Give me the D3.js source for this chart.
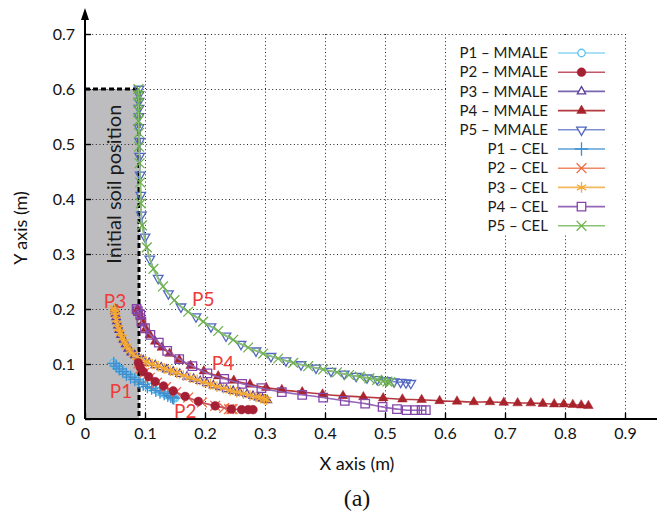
<!DOCTYPE html>
<html>
<head>
<meta charset="utf-8">
<script src="https://cdn.jsdelivr.net/npm/d3@7"></script>
<style>
  html, body { margin: 0; padding: 0; background: #fff; }
  svg { display: block; font-family: Lato, "Open Sans", sans-serif; }
</style>
</head>
<body>
<svg id="chart" width="657" height="513"></svg>
<script>
// Tick values and labels
const xTicks = [0, 0.1, 0.2, 0.3, 0.4, 0.5, 0.6, 0.7, 0.8, 0.9];
const xTickLabels = ["0", "0.1", "0.2", "0.3", "0.4", "0.5", "0.6", "0.7", "0.8", "0.9"];
const yTicks = [0, 0.1, 0.2, 0.3, 0.4, 0.5, 0.6, 0.7];
const yTickLabels = ["0", "0.1", "0.2", "0.3", "0.4", "0.5", "0.6", "0.7"];

// Initial soil block (width, height in metres)
const soilBlock = [0.09, 0.6];

// Particle trajectories [x, y] in metres
const p1Mmale = [[0.047,0.102],[0.050,0.098],[0.056,0.092],[0.061,0.088],[0.067,0.083],[0.074,0.078],[0.081,0.074],[0.088,0.069],[0.094,0.065],[0.101,0.061],[0.108,0.058],[0.115,0.054],[0.122,0.050],[0.129,0.047],[0.136,0.044],[0.141,0.042],[0.145,0.040],[0.148,0.039],[0.150,0.038]];
const p2Mmale = [[0.089,0.102],[0.092,0.094],[0.097,0.086],[0.106,0.077],[0.117,0.068],[0.131,0.060],[0.147,0.051],[0.167,0.041],[0.189,0.032],[0.217,0.024],[0.244,0.018],[0.261,0.017],[0.272,0.017],[0.280,0.017]];
const p3Mmale = [[0.050,0.200],[0.050,0.196],[0.051,0.191],[0.052,0.185],[0.053,0.178],[0.055,0.170],[0.057,0.162],[0.060,0.153],[0.064,0.144],[0.068,0.136],[0.072,0.128],[0.077,0.121],[0.083,0.116],[0.090,0.111],[0.097,0.107],[0.107,0.102],[0.117,0.098],[0.127,0.094],[0.136,0.090],[0.147,0.086],[0.158,0.082],[0.170,0.077],[0.181,0.073],[0.192,0.069],[0.203,0.065],[0.214,0.061],[0.225,0.058],[0.236,0.054],[0.247,0.051],[0.258,0.048],[0.270,0.045],[0.280,0.042],[0.289,0.039],[0.296,0.037],[0.301,0.035],[0.304,0.034]];
const p4Mmale = [[0.088,0.200],[0.090,0.195],[0.093,0.185],[0.096,0.175],[0.101,0.164],[0.108,0.153],[0.117,0.141],[0.128,0.130],[0.141,0.119],[0.157,0.108],[0.176,0.097],[0.198,0.087],[0.222,0.078],[0.248,0.070],[0.275,0.063],[0.302,0.057],[0.328,0.053],[0.362,0.049],[0.396,0.045],[0.430,0.042],[0.464,0.040],[0.497,0.038],[0.529,0.036],[0.561,0.035],[0.591,0.033],[0.620,0.032],[0.648,0.031],[0.675,0.031],[0.698,0.030],[0.721,0.029],[0.743,0.029],[0.763,0.028],[0.782,0.027],[0.798,0.027],[0.813,0.026],[0.827,0.025],[0.839,0.024]];
const p5Mmale = [[0.090,0.600],[0.090,0.590],[0.090,0.578],[0.090,0.565],[0.090,0.550],[0.090,0.530],[0.091,0.505],[0.091,0.478],[0.092,0.444],[0.093,0.407],[0.094,0.371],[0.100,0.331],[0.108,0.291],[0.122,0.256],[0.139,0.228],[0.160,0.204],[0.185,0.186],[0.210,0.168],[0.235,0.151],[0.260,0.136],[0.285,0.124],[0.310,0.114],[0.335,0.106],[0.360,0.099],[0.385,0.093],[0.410,0.087],[0.432,0.082],[0.452,0.078],[0.470,0.075],[0.487,0.072],[0.502,0.070],[0.515,0.068],[0.526,0.067],[0.535,0.066],[0.543,0.065]];

const p1Cel = [[0.048,0.101],[0.052,0.096],[0.057,0.091],[0.063,0.086],[0.069,0.081],[0.076,0.076],[0.083,0.072],[0.090,0.067],[0.097,0.063],[0.104,0.059],[0.111,0.056],[0.118,0.052],[0.125,0.049],[0.132,0.046],[0.138,0.043],[0.143,0.041],[0.146,0.039],[0.148,0.038]];
const p2Cel = [[0.089,0.101],[0.093,0.092],[0.099,0.084],[0.108,0.075],[0.120,0.066],[0.135,0.058],[0.152,0.049],[0.172,0.039],[0.195,0.030],[0.217,0.024],[0.232,0.020],[0.240,0.018],[0.244,0.018],[0.246,0.018]];
const p3Cel = [[0.049,0.201],[0.050,0.198],[0.050,0.194],[0.051,0.188],[0.052,0.181],[0.054,0.173],[0.056,0.165],[0.059,0.157],[0.062,0.148],[0.066,0.140],[0.070,0.132],[0.075,0.124],[0.080,0.118],[0.087,0.113],[0.094,0.109],[0.102,0.104],[0.112,0.100],[0.122,0.096],[0.132,0.092],[0.142,0.088],[0.153,0.084],[0.164,0.079],[0.175,0.075],[0.187,0.071],[0.198,0.067],[0.209,0.063],[0.220,0.059],[0.231,0.056],[0.242,0.052],[0.253,0.049],[0.264,0.046],[0.275,0.043],[0.285,0.040],[0.293,0.038],[0.299,0.036],[0.303,0.035]];
const p4Cel = [[0.086,0.200],[0.088,0.196],[0.092,0.190],[0.094,0.177],[0.100,0.165],[0.109,0.153],[0.123,0.139],[0.137,0.124],[0.157,0.109],[0.179,0.096],[0.204,0.083],[0.232,0.073],[0.262,0.064],[0.294,0.056],[0.328,0.049],[0.362,0.044],[0.397,0.039],[0.433,0.033],[0.467,0.028],[0.496,0.022],[0.520,0.018],[0.536,0.016],[0.550,0.016],[0.561,0.016],[0.568,0.016]];
const p5Cel = [[0.089,0.600],[0.089,0.588],[0.089,0.575],[0.089,0.560],[0.089,0.542],[0.090,0.520],[0.090,0.495],[0.091,0.465],[0.092,0.430],[0.093,0.392],[0.095,0.352],[0.103,0.312],[0.114,0.273],[0.130,0.241],[0.149,0.216],[0.172,0.195],[0.197,0.177],[0.222,0.160],[0.247,0.144],[0.272,0.130],[0.297,0.119],[0.322,0.110],[0.347,0.102],[0.372,0.096],[0.397,0.090],[0.420,0.085],[0.440,0.080],[0.458,0.077],[0.474,0.074],[0.487,0.071],[0.497,0.069],[0.504,0.068],[0.509,0.067]];

const seriesNames = ["P1 \u2013 MMALE", "P2 \u2013 MMALE", "P3 \u2013 MMALE", "P4 \u2013 MMALE", "P5 \u2013 MMALE",
                     "P1 \u2013 CEL", "P2 \u2013 CEL", "P3 \u2013 CEL", "P4 \u2013 CEL", "P5 \u2013 CEL"];
const seriesData = [p1Mmale, p2Mmale, p3Mmale, p4Mmale, p5Mmale, p1Cel, p2Cel, p3Cel, p4Cel, p5Cel];

// Point labels
const pointLabels = ["P1", "P2", "P3", "P4", "P5"];
const pointLabelPos = [[0.060, 0.038], [0.167, 0.002], [0.050, 0.202], [0.230, 0.090], [0.197, 0.205]];

// Styles per series
const styles = [
  { color: "#5ec4ee", line: "#8bd6f2", symbol: d3.symbolCircle, size: 44, fill: false, rotate: 0 },
  { color: "#a51f35", line: "#c4566a", symbol: d3.symbolCircle, size: 60, fill: true, rotate: 0 },
  { color: "#5b3d98", line: "#7a64b0", symbol: d3.symbolTriangle, size: 30, fill: false, rotate: 0 },
  { color: "#a8232b", line: "#b5393f", symbol: d3.symbolTriangle, size: 40, fill: true, rotate: 0 },
  { color: "#5068c0", line: "#7d8fd2", symbol: d3.symbolTriangle, size: 40, fill: false, rotate: 180 },
  { color: "#3f8fd0", line: "#5aa0d8", symbol: d3.symbolPlus, size: 60, fill: false, rotate: 0 },
  { color: "#ee6a40", line: "#f08a66", symbol: d3.symbolTimes, size: 64, fill: false, rotate: 0 },
  { color: "#f4a933", line: "#f3b85e", symbol: d3.symbolAsterisk, size: 80, fill: false, rotate: 0 },
  { color: "#8345aa", line: "#9466b8", symbol: d3.symbolSquare, size: 72, fill: false, rotate: 0 },
  { color: "#6db14d", line: "#8cc370", symbol: d3.symbolTimes, size: 64, fill: false, rotate: 0 }
];
// Drawing order: MMALE beneath CEL, with P2 MMALE on top
const drawOrder = [0, 2, 3, 4, 5, 6, 7, 8, 9, 1];

const svg = d3.select("#chart");
const x = d3.scaleLinear().domain([0, 0.9]).range([85, 625]);
const y = d3.scaleLinear().domain([0, 0.7]).range([419, 34]);

// Initial soil block
svg.append("rect")
  .attr("x", x(0)).attr("y", y(soilBlock[1]))
  .attr("width", x(soilBlock[0]) - x(0)).attr("height", y(0) - y(soilBlock[1]))
  .attr("fill", "#bdbdc0");

// Dotted grid
const grid = svg.append("g").attr("stroke", "#222").attr("stroke-width", 1)
  .attr("stroke-dasharray", "1,2.6").attr("fill", "none");
grid.selectAll("line.v").data(xTicks.slice(1)).join("line").attr("class", "v")
  .attr("x1", d => Math.round(x(d)) + 0.5).attr("x2", d => Math.round(x(d)) + 0.5)
  .attr("y1", y(0.7)).attr("y2", y(0));
grid.selectAll("line.h").data(yTicks.slice(1)).join("line").attr("class", "h")
  .attr("x1", x(0)).attr("x2", x(0.9))
  .attr("y1", d => Math.round(y(d)) + 0.5).attr("y2", d => Math.round(y(d)) + 0.5);

// Soil outline
svg.append("path")
  .attr("d", `M${x(0)},${y(soilBlock[1])}H${x(soilBlock[0])}V${y(0)}`)
  .attr("fill", "none").attr("stroke", "#000").attr("stroke-width", 3)
  .attr("stroke-dasharray", "5,3");

// Legend background
svg.append("rect").attr("x", 447).attr("y", 37).attr("width", 175).attr("height", 196).attr("fill", "#fff");

// Axes
const xAxis = d3.axisBottom(x).tickValues(xTicks).tickFormat((d, i) => xTickLabels[i])
  .tickSizeInner(-6).tickSizeOuter(0).tickPadding(9);
const gx = svg.append("g").attr("transform", `translate(0,${y(0)})`).call(xAxis);
gx.select(".domain").remove();
gx.selectAll("text").attr("font-size", 16).attr("fill", "#111").style("font-family", "Lato, sans-serif");
gx.selectAll("line").attr("stroke-width", 1.4);
svg.append("line").attr("x1", x(0)).attr("x2", 657).attr("y1", y(0)).attr("y2", y(0))
  .attr("stroke", "#000").attr("stroke-width", 2);

const yAxis = d3.axisLeft(y).tickValues(yTicks).tickFormat((d, i) => yTickLabels[i])
  .tickSizeInner(-6).tickSizeOuter(0).tickPadding(10);
const gy = svg.append("g").attr("transform", `translate(${x(0)},0)`).call(yAxis);
gy.select(".domain").remove();
gy.selectAll("text").attr("font-size", 16).attr("fill", "#111").style("font-family", "Lato, sans-serif");
gy.selectAll("line").attr("stroke-width", 1.4);
svg.append("line").attr("x1", x(0)).attr("x2", x(0)).attr("y1", y(0)).attr("y2", 16)
  .attr("stroke", "#000").attr("stroke-width", 2);
svg.append("path").attr("d", `M${x(0)},8L${x(0) - 4},20L${x(0) + 4},20Z`).attr("fill", "#000");

// Trajectories
const line = d3.line().x(d => x(d[0])).y(d => y(d[1])).curve(d3.curveCatmullRom);
const symbolPath = (st) => d3.symbol().type(st.symbol).size(st.size)();

drawOrder.forEach(i => {
  const st = styles[i];
  const g = svg.append("g");
  g.append("path").datum(seriesData[i]).attr("d", line)
    .attr("fill", "none").attr("stroke", st.line).attr("stroke-width", 1.6);
  g.selectAll("path.m").data(seriesData[i]).join("path").attr("class", "m")
    .attr("d", symbolPath(st))
    .attr("transform", d => `translate(${x(d[0])},${y(d[1])}) rotate(${st.rotate})`)
    .attr("fill", st.fill ? st.color : "none")
    .attr("stroke", st.color).attr("stroke-width", st.fill ? 0.5 : 1.3);
});

// Point labels
svg.selectAll("text.pl").data(pointLabels).join("text").attr("class", "pl")
  .attr("x", (d, i) => x(pointLabelPos[i][0])).attr("y", (d, i) => y(pointLabelPos[i][1]))
  .attr("text-anchor", "middle").attr("font-size", 19).attr("fill", "#ef3b3b")
  .text(d => d);

// Soil label
svg.append("text")
  .attr("transform", `translate(${x(0.0465)},${y(0.427)}) rotate(-90)`)
  .attr("text-anchor", "middle").attr("dominant-baseline", "central")
  .attr("font-size", 20).attr("fill", "#1a1a1a")
  .text("Initial soil position");

// Legend
const legend = svg.append("g");
seriesNames.forEach((name, i) => {
  const st = styles[i];
  const cy = 53 + i * 19.2;
  legend.append("text").attr("x", 548).attr("y", cy).attr("dy", "0.35em")
    .attr("text-anchor", "end").attr("font-size", 15).attr("fill", "#1a1a1a").text(name);
  legend.append("line").attr("x1", 558).attr("x2", 605).attr("y1", cy).attr("y2", cy)
    .attr("stroke", st.line).attr("stroke-width", 1.6);
  legend.append("path").attr("d", symbolPath(st))
    .attr("transform", `translate(581.5,${cy}) rotate(${st.rotate})`)
    .attr("fill", st.fill ? st.color : "#fff")
    .attr("stroke", st.color).attr("stroke-width", st.fill ? 0.5 : 1.3);
});

// Axis titles and caption
svg.append("text").attr("x", 357).attr("y", 470).attr("text-anchor", "middle")
  .attr("font-size", 18).attr("fill", "#111").text("X axis (m)");
svg.append("text").attr("transform", "translate(27,228) rotate(-90)")
  .attr("text-anchor", "middle").attr("font-size", 18).attr("fill", "#111").text("Y axis (m)");
svg.append("text").attr("x", 357).attr("y", 506).attr("text-anchor", "middle")
  .style("font-family", "'Liberation Serif', 'Times New Roman', serif")
  .attr("font-size", 24).attr("fill", "#111").text("(a)");
</script>
</body>
</html>
